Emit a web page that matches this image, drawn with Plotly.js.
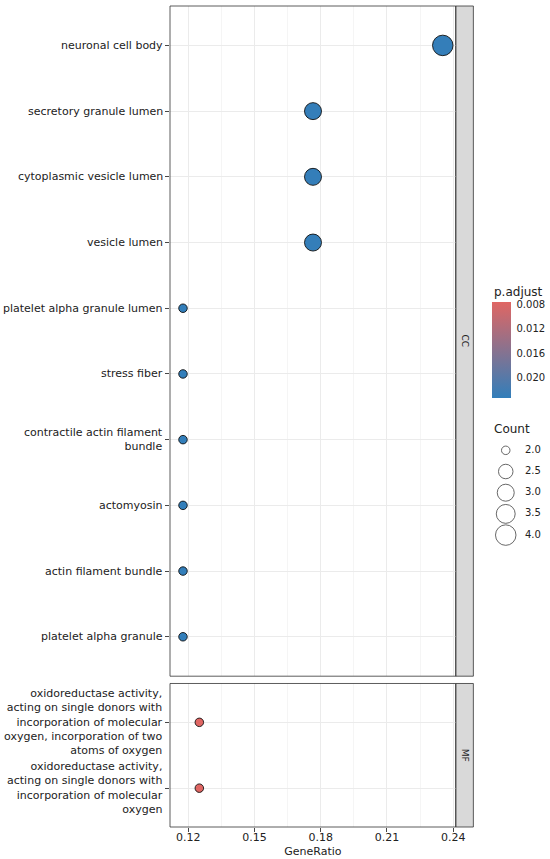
<!DOCTYPE html>
<html>
<head>
<meta charset="utf-8">
<script src="https://cdn.plot.ly/plotly-3.0.1.min.js"></script>
<style>html,body{margin:0;padding:0;background:#fff;}#chart{width:550px;height:859px;}</style>
</head>
<body>
<div id="chart"></div>
<script>
// ---------------- data ----------------
const ccTerms = ["neuronal cell body","secretory granule lumen","cytoplasmic vesicle lumen","vesicle lumen",
  "platelet alpha granule lumen","stress fiber","contractile actin filament bundle","actomyosin",
  "actin filament bundle","platelet alpha granule"];
const ccRatio = [0.2353,0.1765,0.1765,0.1765,0.1176,0.1176,0.1176,0.1176,0.1176,0.1176];
const ccCount = [4,3,3,3,2,2,2,2,2,2];
const ccPadj  = [0.0232,0.0232,0.0232,0.0232,0.0234,0.0234,0.0234,0.0234,0.0234,0.0234];

const mfTerms = ["oxidoreductase activity, acting on single donors with incorporation of molecular oxygen, incorporation of two atoms of oxygen",
  "oxidoreductase activity, acting on single donors with incorporation of molecular oxygen"];
const mfRatio = [0.125,0.125];
const mfCount = [2,2];
const mfPadj  = [0.0077,0.0077];

const xTicks = [0.12,0.15,0.18,0.21,0.24];
const padjTicks = [0.008,0.012,0.016,0.020];
const countBreaks = [2.0,2.5,3.0,3.5,4.0];

// ---------------- helpers ----------------
const L = 169.7, T = 6.3, W = 550 - L, H = 859 - T - 32.3;
const px = v => (v - L) / W;
const py = v => (T + H - v) / H;
const FONT = "DejaVu Sans";
const TXT = "#222222";

const allCount = ccCount.concat(mfCount);
const cMin = Math.min(...allCount), cMax = Math.max(...allCount);
const sizeOf = c => 8.5 + 12 * Math.sqrt((c - cMin) / (cMax - cMin));

const allPadj = ccPadj.concat(mfPadj);
const pMin = Math.min(...allPadj), pMax = Math.max(...allPadj);

const allRatio = ccRatio.concat(mfRatio);
const rMin = Math.min(...allRatio), rMax = Math.max(...allRatio);
const rPad = (rMax - rMin) * 0.05;

function wrap(s, width) {
  const words = s.split(" "); const lines = []; let cur = "";
  for (const w of words) {
    if (cur === "") cur = w;
    else if ((cur + " " + w).length <= width) cur += " " + w;
    else { lines.push(cur); cur = w; }
  }
  if (cur) lines.push(cur);
  return lines;
}

// ---------------- traces ----------------
const markerBase = (counts, padj) => ({
  size: counts.map(sizeOf),
  color: padj.map(p => -p),
  coloraxis: "coloraxis",
  line: {color: "#111", width: 0.9},
  opacity: 1
});

const traces = [
  {type: "scatter", mode: "markers", x: ccRatio, y: ccTerms, xaxis: "x", yaxis: "y",
   marker: markerBase(ccCount, ccPadj), showlegend: false, hoverinfo: "x+y"},
  {type: "scatter", mode: "markers", x: mfRatio, y: mfTerms, xaxis: "x", yaxis: "y2",
   marker: markerBase(mfCount, mfPadj), showlegend: false, hoverinfo: "x+y"},
  // size legend
  {type: "scatter", mode: "markers", x: countBreaks.map(() => 0), y: countBreaks, xaxis: "x3", yaxis: "y3",
   marker: {size: countBreaks.map(sizeOf), color: "rgba(255,255,255,0)", line: {color: "#111", width: 0.9}},
   showlegend: false, hoverinfo: "skip", cliponaxis: false},
  {type: "scatter", mode: "text", x: countBreaks.map(() => 1), y: countBreaks, xaxis: "x3", yaxis: "y3",
   text: countBreaks.map(v => v.toFixed(1)), textposition: "middle right",
   textfont: {family: FONT, size: 10, color: TXT},
   showlegend: false, hoverinfo: "skip", cliponaxis: false}
];

// ---------------- annotations ----------------
const annotations = [];
function addLabels(terms, yref) {
  terms.forEach(t => {
    annotations.push({xref: "paper", yref: yref, x: px(164), y: t, xanchor: "right", yanchor: "middle",
      align: "right", text: wrap(t, 30).join("<br>"), showarrow: false, borderpad: 0,
      font: {family: FONT, size: 11, color: TXT}});
  });
}
addLabels(ccTerms, "y");
addLabels(mfTerms, "y2");

annotations.push({xref: "paper", yref: "paper", x: px(464.5), y: py((T + 676) / 2), xanchor: "center", yanchor: "middle",
  text: "CC", textangle: 90, showarrow: false, font: {family: FONT, size: 9, color: TXT}});
annotations.push({xref: "paper", yref: "paper", x: px(464.5), y: py((683.3 + 826.7) / 2), xanchor: "center", yanchor: "middle",
  text: "MF", textangle: 90, showarrow: false, font: {family: FONT, size: 9, color: TXT}});
annotations.push({xref: "paper", yref: "paper", x: px(492), y: py(429), xanchor: "left", yanchor: "middle",
  text: "Count", showarrow: false, font: {family: FONT, size: 12, color: TXT}});
annotations.push({xref: "paper", yref: "paper", x: px(492), y: py(291.7), xanchor: "left", yanchor: "middle",
  text: "p.adjust", showarrow: false, font: {family: FONT, size: 12, color: TXT}});

// ---------------- shapes ----------------
const border = "#333333";
const shapes = [
  {type: "rect", xref: "paper", yref: "paper", x0: 0, x1: px(455.7), y0: py(676), y1: py(T), line: {color: border, width: 0.8}, layer: "above"},
  {type: "rect", xref: "paper", yref: "paper", x0: 0, x1: px(455.7), y0: py(826.7), y1: py(683.3), line: {color: border, width: 0.8}, layer: "above"},
  {type: "rect", xref: "paper", yref: "paper", x0: px(455.7), x1: px(473.3), y0: py(676), y1: py(T), fillcolor: "#D9D9D9", line: {color: border, width: 0.8}, layer: "below"},
  {type: "rect", xref: "paper", yref: "paper", x0: px(455.7), x1: px(473.3), y0: py(826.7), y1: py(683.3), fillcolor: "#D9D9D9", line: {color: border, width: 0.8}, layer: "below"}
];

const grid = "#EBEBEB";
const layout = {
  width: 550, height: 859,
  margin: {l: L, r: 550 - L - W, t: T, b: 32.3, pad: 0},
  paper_bgcolor: "#fff", plot_bgcolor: "#fff",
  font: {family: FONT, color: TXT},
  showlegend: false,
  xaxis: {domain: [0, px(455.7)], anchor: "y2", range: [rMin - rPad, rMax + rPad],
    tickmode: "array", tickvals: xTicks, ticktext: xTicks.map(v => v.toFixed(2)),
    ticks: "outside", ticklen: 3.5, tickwidth: 0.9, tickcolor: "#333",
    ticklabelstandoff: -4,
    tickfont: {family: FONT, size: 11, color: TXT},
    showgrid: true, gridcolor: grid, gridwidth: 1,
    minor: {tickmode: "linear", tick0: 0.105, dtick: 0.03, showgrid: true, gridcolor: grid, gridwidth: 0.5, ticks: ""},
    zeroline: false, showline: false,
    title: {text: "GeneRatio", font: {family: FONT, size: 11, color: TXT}, standoff: 4}},
  yaxis: {domain: [py(676), py(T)], anchor: "x", type: "category", categoryarray: ccTerms, categoryorder: "array",
    range: [ccTerms.length - 1 + 0.6, -0.6],
    showticklabels: false, ticks: "outside", ticklen: 4, tickwidth: 0.9, tickcolor: "#333",
    showgrid: true, gridcolor: grid, gridwidth: 1, zeroline: false, showline: false},
  yaxis2: {domain: [py(826.7), py(683.3)], anchor: "x", type: "category", categoryarray: mfTerms, categoryorder: "array",
    range: [mfTerms.length - 1 + 0.59, -0.59],
    showticklabels: false, ticks: "outside", ticklen: 4, tickwidth: 0.9, tickcolor: "#333",
    showgrid: true, gridcolor: grid, gridwidth: 1, zeroline: false, showline: false},
  xaxis3: {domain: [px(505.7), px(525)], range: [0, 1], visible: false, fixedrange: true},
  yaxis3: {domain: [py(535), py(450.3)], range: [cMax, cMin], visible: false, fixedrange: true, anchor: "x3"},
  coloraxis: {
    colorscale: [[0, "#327eba"], [1, "#e06663"]],
    cmin: -pMax, cmax: -pMin,
    colorbar: {
      x: px(492.3), xanchor: "left", xpad: 0, y: py(350.3), yanchor: "middle", ypad: 0,
      len: 95.5, lenmode: "pixels", thickness: 19.4, thicknessmode: "pixels",
      outlinewidth: 0, borderwidth: 0,
      tickmode: "array", tickvals: padjTicks.map(v => -v), ticktext: padjTicks.map(v => v.toFixed(3)),
      ticks: "outside", ticklen: 4, tickcolor: "rgba(255,255,255,0)", tickwidth: 0.8,
      tickfont: {family: FONT, size: 10, color: TXT},
      title: {text: ""}
    }
  },
  annotations: annotations,
  shapes: shapes
};

Plotly.newPlot("chart", traces, layout, {displayModeBar: false, staticPlot: true});
</script>
</body>
</html>
